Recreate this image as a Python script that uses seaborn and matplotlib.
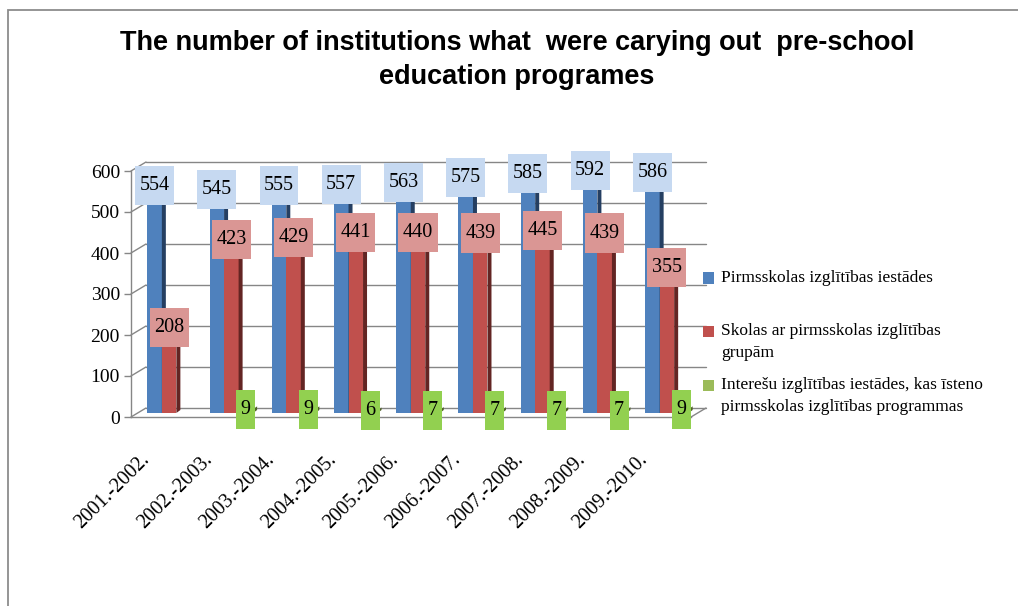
import numpy as np
import pandas as pd
import matplotlib
matplotlib.use("Agg")
import matplotlib.pyplot as plt
import seaborn as sns
from matplotlib.patches import Rectangle, Polygon
from matplotlib.transforms import ScaledTranslation
from matplotlib.path import Path

# ---- data -------------------------------------------------------------
years = ["2001.-2002.", "2002.-2003.", "2003.-2004.", "2004.-2005.", "2005.-2006.",
         "2006.-2007.", "2007.-2008.", "2008.-2009.", "2009.-2010."]
preschools = [554, 545, 555, 557, 563, 575, 585, 592, 586]
schools = [208, 423, 429, 441, 440, 439, 445, 439, 355]
interest = [np.nan, 9, 9, 6, 7, 7, 7, 7, 9]

series_names = [
    "Pirmsskolas izglītības iestādes",
    "Skolas ar pirmsskolas izglītības grupām",
    "Interešu izglītības iestādes, kas īsteno pirmsskolas izglītības programmas",
]
legend_text = [
    "Pirmsskolas izglītības iestādes",
    "Skolas ar pirmsskolas izglītības\ngrupām",
    "Interešu izglītības iestādes, kas īsteno\npirmsskolas izglītības programmas",
]
title = "The number of institutions what  were carying out  pre-school\neducation programes"

# ---- styling ----------------------------------------------------------
front_colors = ["#4F81BD", "#C0504D", "#9BBB59"]
side_colors = ["#253F62", "#632523", "#4F6228"]
label_fill = ["#C6D9F1", "#DA9694", "#92D050"]
legend_colors = ["#4F81BD", "#C0504D", "#9BBB59"]
line_gray = "#868686"

sns.set_theme(style="white")
plt.rcParams["font.family"] = ["Liberation Serif", "DejaVu Serif"]
plt.rcParams["text.color"] = "black"

W, H, DPI = 1018, 606, 100
fig = plt.figure(figsize=(W / DPI, H / DPI), dpi=DPI)
ax = fig.add_axes([131 / W, (H - 417) / H, 560 / W, 246 / H])

df = pd.DataFrame({
    "year": years * 3,
    "series": sum([[s] * len(years) for s in series_names], []),
    "value": preschools + schools + interest,
})
df = df.dropna()

sns.barplot(data=df, x="year", y="value", hue="series", hue_order=series_names,
            order=years, palette=front_colors, saturation=1, width=0.7, gap=0,
            errorbar=None, legend=False, linewidth=0, ax=ax)

ax.set_xlim(-0.5, len(years) - 0.5)
ax.set_ylim(0, 600)

# pixel -> data conversion for the pseudo-3D depth
p0 = ax.transData.transform((0, 0))
p1 = ax.transData.transform((1, 1))
ppx, ppy = p1 - p0

# back wall: grid lines and left wall edges, pushed back in depth
depth_dx, depth_dy = 15 / ppx, 9 / ppy
x0, x1 = ax.get_xlim()
for v in range(0, 601, 100):
    ax.plot([x0 + depth_dx, x1 + depth_dx], [v + depth_dy, v + depth_dy],
            color=line_gray, lw=1, zorder=0.5, clip_on=False)
    ax.plot([x0, x0 + depth_dx], [v, v + depth_dy],
            color=line_gray, lw=1, zorder=0.5, clip_on=False)
ax.plot([x1, x1 + depth_dx], [0, depth_dy], color=line_gray, lw=1,
        zorder=0.5, clip_on=False)


def label_box(x0, y0, width, height, mutation_size):
    px, py = 0.22 * mutation_size, 0.5 * mutation_size
    xa, ya, xb, yb = x0 - px, y0 - py, x0 + width + px, y0 + height + py
    return Path([(xa, ya), (xb, ya), (xb, yb), (xa, yb), (xa, ya)],
                [Path.MOVETO, Path.LINETO, Path.LINETO, Path.LINETO, Path.CLOSEPOLY])


# bars sit midway in depth; sides give the extruded look
bar_shift = ScaledTranslation(7 / DPI, 4 / DPI, fig.dpi_scale_trans)
side_dx, side_dy = 4 / ppx, 3 / ppy
for i, cont in enumerate(ax.containers):
    for bar in cont:
        h = bar.get_height()
        if not np.isfinite(h):
            continue
        bar.set_transform(ax.transData + bar_shift)
        bar.set_zorder(2 + i)
        bar.set_clip_on(False)
        xr = bar.get_x() + bar.get_width()
        side = Polygon([(xr, 0), (xr + side_dx, side_dy),
                        (xr + side_dx, h + side_dy), (xr, h)],
                       closed=True, facecolor=side_colors[i], edgecolor="none",
                       transform=ax.transData + bar_shift, zorder=2.5 + i,
                       clip_on=False)
        ax.add_patch(side)
        cx = bar.get_x() + bar.get_width() / 2
        ax.text(cx, h, f"{int(round(h))}", ha="center", va="center",
                fontsize=14.5, color="black", zorder=10,
                transform=ax.transData + bar_shift,
                bbox=dict(boxstyle=label_box, facecolor=label_fill[i],
                          edgecolor="none"))

# axes
for s in ["top", "right"]:
    ax.spines[s].set_visible(False)
for s in ["left", "bottom"]:
    ax.spines[s].set_color(line_gray)
    ax.spines[s].set_linewidth(1)
ax.set_yticks(range(0, 601, 100))
ax.tick_params(axis="y", which="major", left=True, length=5, width=1,
               color=line_gray, pad=3, labelsize=14, labelcolor="black")
ax.set_xticks(np.arange(len(years)) - 0.24, labels=years)
ax.tick_params(axis="x", length=0, pad=29, labelsize=14.5, labelcolor="black")
for lab in ax.get_xticklabels():
    lab.set_rotation(45)
    lab.set_ha("right")
    lab.set_va("center")
    lab.set_rotation_mode("anchor")
ax.set_xlabel("")
ax.set_ylabel("")
ax.grid(False)
ax.set_facecolor("none")

# title
fig.text(0.508, (H - 60) / H, title, ha="center", va="center",
         fontsize=19.5, fontweight="bold", linespacing=1.38, color="black",
         family=["Liberation Sans", "DejaVu Sans"])

# legend
first_line_y = [278, 331, 385]
for i, (txt, ly) in enumerate(zip(legend_text, first_line_y)):
    fig.add_artist(Rectangle((703 / W, (H - ly - 5.5) / H), 11 / W, 11 / H,
                             transform=fig.transFigure, facecolor=legend_colors[i],
                             edgecolor="none"))
    fig.text(721 / W, (H - ly) / H + 0.013, txt, ha="left", va="top",
             fontsize=12.5, linespacing=1.5, color="black")

# chart frame
fig.add_artist(Rectangle((7.5 / W, -0.1), 2, (H - 9.5) / H + 0.1,
                         transform=fig.transFigure, fill=False,
                         edgecolor="#8c8c8c", lw=1.3))

fig.savefig("out.png", dpi=DPI)
